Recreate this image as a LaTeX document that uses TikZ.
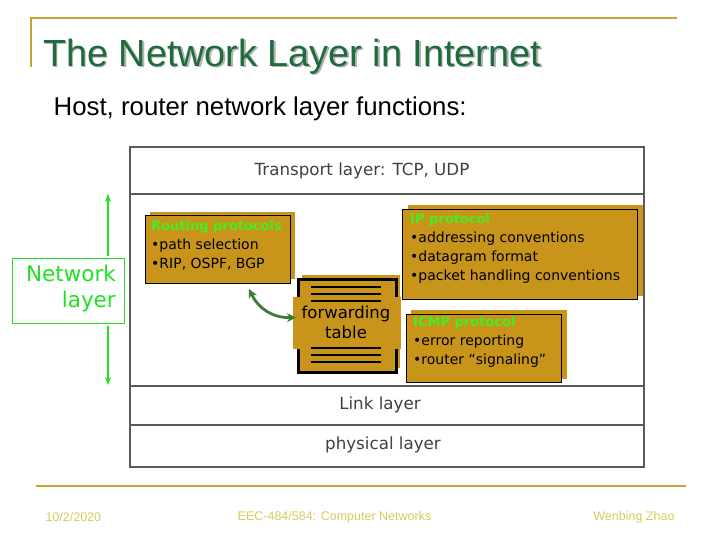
\documentclass[tikz,border=0pt]{standalone}
\usepackage{fontspec}
\setmainfont{Liberation Sans}
\newfontfamily\cfont{DejaVu Sans}
\usetikzlibrary{arrows.meta,shadows}
\definecolor{gold}{HTML}{C9A430}
\definecolor{boxgold}{HTML}{C8951A}
\definecolor{titlegreen}{HTML}{1E6B3C}
\definecolor{netgreen}{HTML}{22E022}
\definecolor{hdrgreen}{HTML}{44EE22}
\definecolor{arrowgreen}{HTML}{3A7D3A}
\definecolor{stackgray}{HTML}{5A5A5A}
\definecolor{footcol}{HTML}{D6CC5E}
\definecolor{laytext}{HTML}{404040}
\tikzset{
  goldbox/.style={fill=boxgold, draw=black, line width=1pt, anchor=north west, inner sep=0pt,
    general shadow={fill=boxgold, shadow xshift=5pt, shadow yshift=4pt}},
  boxtext/.style={anchor=north west, inner sep=0pt, align=left, font=\cfont\fontsize{14}{19}\selectfont},
  laytxt/.style={text=laytext, font=\cfont\fontsize{16.7}{20}\selectfont},
  stackline/.style={draw=stackgray, line width=2pt},
  footer/.style={text=footcol, font=\fontsize{12.5}{14}\selectfont},
  tbline/.style={draw=black, line width=2pt},
}
\begin{document}
\begin{tikzpicture}[x=1pt,y=-1pt]
\useasboundingbox[fill=white] (0,0) rectangle (720,540);
% header decoration
\draw[gold, line width=2pt] (30.7,66.7) -- (30.7,18.5) -- (677,18.5);
\node[anchor=base west, inner sep=0pt, text=black!30, font=\fontsize{37.8}{40}\selectfont] (titleshadow) at (44.5,68) {The Network Layer in Internet};
\node[anchor=base west, inner sep=0pt, text=titlegreen, font=\fontsize{37.8}{40}\selectfont] (title) at (43,66.5) {The Network Layer in Internet};
\node[anchor=base west, inner sep=0pt, font=\fontsize{25.8}{28}\selectfont] (sub) at (53.5,116) {Host, router network layer functions:};

% stack
\node[draw=stackgray, line width=2pt, minimum width=514pt, minimum height=320pt, anchor=north west, inner sep=0pt] (stack) at (129,146) {};
\draw[stackline] (129,194) -- (643,194);
\draw[stackline] (129,386) -- (643,386);
\draw[stackline] (129,425) -- (643,425);
\node[laytxt] (transport) at (362,171) {Transport layer: TCP, UDP};
\node[laytxt] (link) at (380,405) {Link layer};
\node[laytxt] (phys) at (383,445) {physical layer};

% network layer label
\node[draw=netgreen, line width=1.4pt, minimum width=112pt, minimum height=65.5pt, anchor=north west, inner sep=0pt] (netbox) at (11.5,257.5) {};
\node[anchor=east, align=right, inner sep=0pt, text=netgreen, font=\cfont\fontsize{21.5}{26}\selectfont] (nettext) at (116,289) {Network\\layer};
\coordinate (nu1) at (108,256);
\coordinate (nu2) at (108,194);
\coordinate (nd1) at (108,326);
\coordinate (nd2) at (108,385);
\draw[netgreen, line width=1.6pt, -{Stealth[length=8pt,width=6pt]}] (nu1) -- (nu2);
\draw[netgreen, line width=1.6pt, -{Stealth[length=8pt,width=6pt]}] (nd1) -- (nd2);

% routing protocols box
\node[goldbox, line width=0.6pt, minimum width=145.5pt, minimum height=67.5pt] (routing) at (144.5,215.5) {};
\node[boxtext] (routingtxt) at (151,220) {\textcolor{hdrgreen}{\bfseries\fontsize{13}{19}\selectfont Routing protocols}\\•path selection\\•RIP, OSPF, BGP};

% IP protocol box
\node[goldbox, minimum width=235pt, minimum height=90pt] (ip) at (402,209) {};
\node[boxtext] (iptxt) at (410,213) {\textcolor{hdrgreen}{\bfseries\fontsize{13}{19}\selectfont IP protocol}\\•addressing conventions\\•datagram format\\•packet handling conventions};

% ICMP box
\node[goldbox, minimum width=155.5pt, minimum height=68.5pt] (icmp) at (405.7,313.5) {};
\node[boxtext] (icmptxt) at (413,316) {\textcolor{hdrgreen}{\bfseries\fontsize{13}{19}\selectfont ICMP protocol}\\•error reporting\\•router “signaling”};

% forwarding table
\node[fill=boxgold, draw=black, line width=2.5pt, minimum width=98pt, minimum height=93pt, anchor=north west, inner sep=0pt,
  general shadow={fill=boxgold, shadow xshift=4pt, shadow yshift=4pt}] (fwdbox) at (297,278) {};
\node[fill=boxgold, minimum width=108pt, minimum height=52pt, anchor=north west, inner sep=0pt] (fwdmid) at (293,297) {};
\foreach \yy in {287,294,301,348,355,362} \draw[tbline] (311,\yy) -- (381,\yy);
\node[align=center, inner sep=0pt, font=\cfont\fontsize{16.5}{20}\selectfont] (fwd) at (346,322.5) {forwarding\\table};

% green curved double arrow
\coordinate (ra) at (249,289);
\coordinate (fa) at (296,317.5);
\draw[arrowgreen, line width=2.8pt, {Stealth[length=9pt,width=9pt]}-{Stealth[length=9pt,width=9pt]}] (ra) .. controls (258,308) and (272,318) .. (fa);

% footer
\draw[gold, line width=2.5pt] (36,486) -- (686,486);
\node[footer, anchor=west] (date) at (42,517) {10/2/2020};
\node[footer] (course) at (334.5,517) {EEC-484/584: Computer Networks};
\node[footer, anchor=east] (author) at (678,517) {Wenbing Zhao};
\end{tikzpicture}
\end{document}
